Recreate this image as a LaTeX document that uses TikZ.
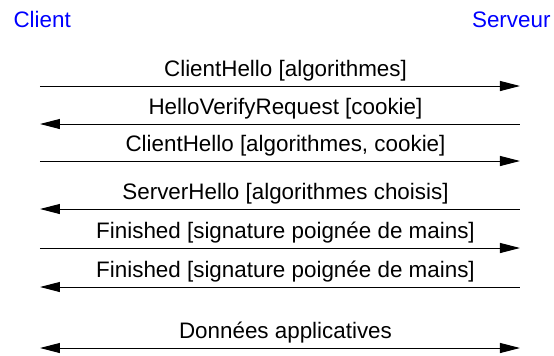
\documentclass[tikz,border=0pt]{standalone}
\usepackage{fontspec}
\setmainfont{Liberation Sans}
\usetikzlibrary{
        arrows.meta,
        positioning
    }
\tikzset{>={Triangle[length=10pt,width=5pt]},shorten >=0pt}
\tikzset{party/.style={text=blue,inner sep=0pt,font=\fontsize{11.2}{13}\selectfont}}
\tikzset{msg/.style={above,inner sep=2pt,xshift=2.75pt,font=\fontsize{11.2}{13}\selectfont}}

\begin{document}
\begin{tikzpicture}[x=0.5pt,y=-0.5pt,line width=0.5pt]
			\useasboundingbox (0,0) rectangle (554,355);
			\node[party,anchor=base west] (client) at (13,27) {Client};
			\node[party,anchor=base east] (serveur) at (551,27) {Serveur};
			\coordinate (c1) at (40,86);  \coordinate (s1) at (520,86);
			\coordinate (c2) at (40,124); \coordinate (s2) at (520,124);
			\coordinate (c3) at (40,161); \coordinate (s3) at (520,161);
			\coordinate (c4) at (40,209); \coordinate (s4) at (520,209);
			\coordinate (c5) at (40,248); \coordinate (s5) at (520,248);
			\coordinate (c6) at (40,287); \coordinate (s6) at (520,287);
			\coordinate (c7) at (40,348); \coordinate (s7) at (520,348);
			\path[->]
				(c1) edge node[msg] {ClientHello [algorithmes]} (s1)
				(s2) edge node[msg] {HelloVerifyRequest [cookie]} (c2)
				(c3) edge node[msg] {ClientHello [algorithmes, cookie]} (s3)
				(s4) edge node[msg] {ServerHello [algorithmes choisis]} (c4)
				(c5) edge node[msg] {Finished [signature poignée de mains]} (s5)
				(s6) edge node[msg] {Finished [signature poignée de mains]} (c6)
				(c7) edge [<->] node[msg] {Données applicatives} (s7);
		\end{tikzpicture}
\end{document}
